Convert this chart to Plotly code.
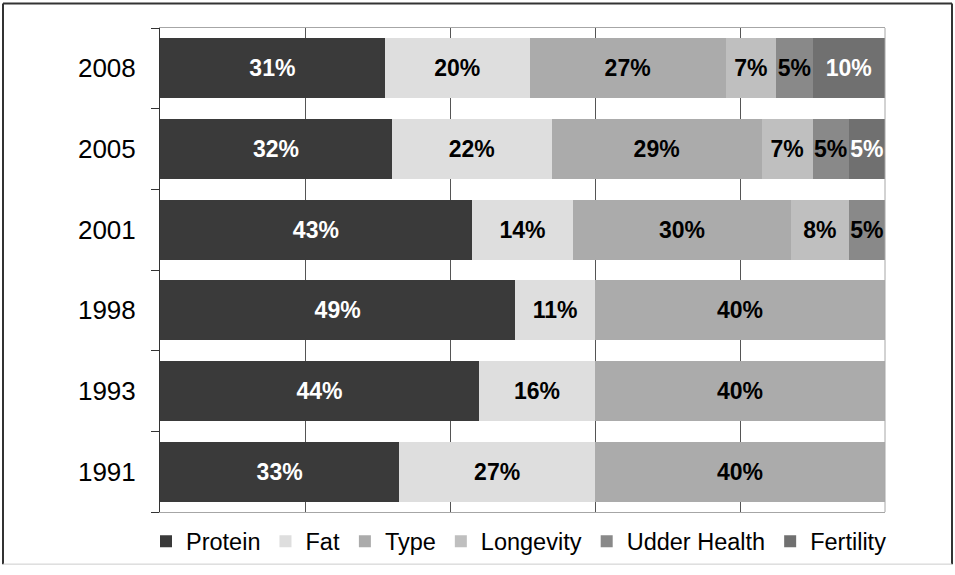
import plotly.graph_objects as go

# Breeding-goal weights (%) per year
years = ["1991", "1993", "1998", "2001", "2005", "2008"]
protein = [33, 44, 49, 43, 32, 31]
fat = [27, 16, 11, 14, 22, 20]
type_ = [40, 40, 40, 30, 29, 27]
longevity = [None, None, None, 8, 7, 7]
udder_health = [None, None, None, 5, 5, 5]
fertility = [None, None, None, None, 5, 10]

series = [
    ("Protein", protein, "#3a3a3a", "white"),
    ("Fat", fat, "#dedede", "black"),
    ("Type", type_, "#ababab", "black"),
    ("Longevity", longevity, "#bfbfbf", "black"),
    ("Udder Health", udder_health, "#898989", "black"),
    ("Fertility", fertility, "#707070", "white"),
]

FONT = "Liberation Sans, Arial, sans-serif"
W, H = 955, 575
L, R, T, B = 160, 70, 28, 55
PW, PH = W - L - R, H - T - B

fig = go.Figure()
for name, vals, color, tcolor in series:
    fig.add_trace(go.Bar(
        name=name, y=years, x=vals, orientation="h",
        marker=dict(color=color, line=dict(width=0)),
        texttemplate="%{x}%", textposition="inside",
        insidetextanchor="middle", textangle=0,
        textfont=dict(family=FONT, size=23, color=tcolor, weight="bold"),
        hoverinfo="skip",
    ))

def px_x(px):
    return (px - L) / PW

def px_y(py):
    return (H - B - py) / PH

shapes = [
    # outer frame
    dict(type="line", xref="paper", yref="paper", x0=px_x(3), x1=px_x(3),
         y0=px_y(573), y1=px_y(3), line=dict(color="#333333", width=2)),
    dict(type="line", xref="paper", yref="paper", x0=px_x(3), x1=px_x(952),
         y0=px_y(3), y1=px_y(3), line=dict(color="#333333", width=2)),
    dict(type="line", xref="paper", yref="paper", x0=px_x(952), x1=px_x(952),
         y0=px_y(573), y1=px_y(3), line=dict(color="#333333", width=2)),
    dict(type="line", xref="paper", yref="paper", x0=px_x(3), x1=px_x(952),
         y0=px_y(573), y1=px_y(573), line=dict(color="#cccccc", width=1)),
    # right edge of the plot area
    dict(type="line", xref="paper", yref="paper", x0=1, x1=1, y0=0, y1=1,
         line=dict(color="#a6a6a6", width=1), layer="above"),
]

fig.update_layout(
    width=W, height=H,
    margin=dict(l=L, r=R, t=T, b=B, pad=0),
    paper_bgcolor="white", plot_bgcolor="white",
    barmode="stack", bargap=0.26,
    font=dict(family=FONT, color="black"),
    showlegend=True,
    legend=dict(orientation="h", x=px_x(146), xanchor="left",
                y=px_y(550), yanchor="middle",
                font=dict(family=FONT, size=23.5, color="black"),
                traceorder="normal", itemwidth=30, bgcolor="rgba(0,0,0,0)"),
    shapes=shapes,
    uniformtext=dict(minsize=23, mode="show"),
)
fig.update_xaxes(
    range=[0, 100], dtick=20, showticklabels=False, ticks="",
    showgrid=True, gridcolor="#555555", gridwidth=1,
    showline=True, linecolor="#a6a6a6", linewidth=1, mirror=True,
    zeroline=False, fixedrange=True,
)
fig.update_yaxes(
    type="category", categoryorder="array", categoryarray=years,
    showline=True, linecolor="#333333", linewidth=1, mirror=False,
    ticks="outside", ticklen=8, tickcolor="#333333", tickson="boundaries",
    ticklabelstandoff=18,
    tickfont=dict(family=FONT, size=26, color="black"),
    showgrid=False, zeroline=False, fixedrange=True,
)

fig.write_html("out.html")
